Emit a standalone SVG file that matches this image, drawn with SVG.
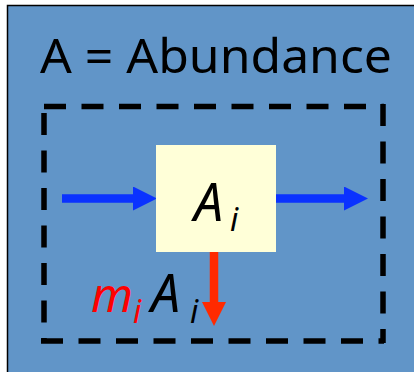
<svg xmlns="http://www.w3.org/2000/svg" width="414" height="372" viewBox="0 0 414 372">
<style>
.t{font-family:"Noto Sans","DejaVu Sans",sans-serif;}
.it{font-style:italic;}
.dash{stroke:#000;stroke-width:5.5;fill:none;stroke-dasharray:22 15.5;}
</style>
<defs>
<marker id="hb" markerUnits="userSpaceOnUse" markerWidth="24" markerHeight="24" refX="0" refY="12" orient="auto" viewBox="0 0 24 24"><path d="M0,0 L24,12 L0,24 Z" fill="#0A32FF"/></marker>
<marker id="hr" markerUnits="userSpaceOnUse" markerWidth="24" markerHeight="24" refX="0" refY="12" orient="auto" viewBox="0 0 24 24"><path d="M0,0 L24,12 L0,24 Z" fill="#FF2A00"/></marker>
</defs>
<rect x="7.5" y="5.5" width="420" height="380" fill="#6195C8" stroke="#000" stroke-width="1.5"/>
<text class="t" x="40" y="73" font-size="48" fill="#000" textLength="352" lengthAdjust="spacingAndGlyphs">A = Abundance</text>
<g id="boundary">
<path class="dash" d="M44,106.5 H384"/>
<path class="dash" d="M383,104 V343"/>
<path class="dash" d="M44,113 V341"/>
<path class="dash" d="M41,341 H384"/>
</g>
<g id="connectors">
<line x1="62" y1="198.5" x2="133" y2="198.5" stroke="#0A32FF" stroke-width="8.5" marker-end="url(#hb)"/>
<line x1="276" y1="198.5" x2="344" y2="198.5" stroke="#0A32FF" stroke-width="8.5" marker-end="url(#hb)"/>
<line x1="214" y1="252" x2="214" y2="302" stroke="#FF2A00" stroke-width="8.5" marker-end="url(#hr)"/>
</g>
<g id="node-Ai">
<rect x="156" y="145" width="120" height="107" fill="#FFFFD8"/>
<text class="t it" x="194" y="221" font-size="52" fill="#000">A<tspan x="230" y="231" font-size="32">i</tspan></text>
</g>
<g id="label-mortality">
<text class="t it" x="91" y="311.5" font-size="48" fill="#FF0000">m</text>
<text class="t it" x="133" y="323" font-size="32" fill="#FF0000">i</text>
<text class="t it" x="151" y="311.5" font-size="52" fill="#000">A<tspan x="190" y="323" font-size="32">i</tspan></text>
</g>
</svg>
